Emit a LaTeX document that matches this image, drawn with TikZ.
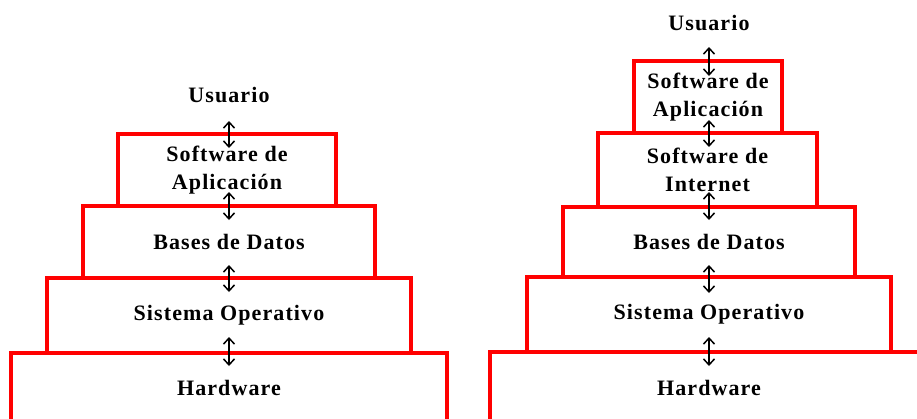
\documentclass[tikz,border=0pt]{standalone}
\usepackage{fontspec}
\setmainfont{Liberation Serif}[LetterSpace=5]
\usetikzlibrary{arrows.meta}

\tikzset{
  capa/.style={draw=red, line width=4pt, outer sep=0pt, inner sep=0pt, align=center,
    font=\bfseries\fontsize{22}{28}\selectfont},
  etiq/.style={inner sep=0pt, font=\bfseries\fontsize{22}{28}\selectfont},
  flecha/.style={black, line width=1.5pt, {Straight Barb[length=6pt,width=11pt]}-{Straight Barb[length=6pt,width=11pt]}}
}

\begin{document}
\begin{tikzpicture}[x=1pt,y=-1pt]
  \useasboundingbox (0,0) rectangle (917,418);
  \clip (0,0) rectangle (917,418);

  % pila de la izquierda
  \node[etiq] (usuI) at (229,95) {Usuario};
  \node[capa, minimum width=218, minimum height=72] (aplI) at (227,170) {Software de\\Aplicación};
  \node[capa, minimum width=292, minimum height=72] (bdI) at (229,242) {Bases de Datos};
  \node[capa, minimum width=364, minimum height=75] (soI) at (229,315.5) {Sistema Operativo};
  \node[capa, minimum width=436, minimum height=70] (hwI) at (229,388) {Hardware};

  \draw[flecha] ([xshift=2pt,yshift=13pt]aplI.north) -- ([xshift=2pt,yshift=-14pt]aplI.north);
  \draw[flecha] ([yshift=14pt]bdI.north) -- ([yshift=-14pt]bdI.north);
  \draw[flecha] ([yshift=13pt]soI.north) -- ([yshift=-14pt]soI.north);
  \draw[flecha] ([yshift=16pt]hwI.north) -- ([yshift=-13pt]hwI.north);

  % pila de la derecha
  \node[etiq] (usuD) at (709,23) {Usuario};
  \node[capa, minimum width=148, minimum height=72] (aplD) at (708,97) {Software de\\Aplicación};
  \node[capa, minimum width=219, minimum height=74] (intD) at (707.5,170) {Software de\\Internet};
  \node[capa, minimum width=292, minimum height=70] (bdD) at (709,242) {Bases de Datos};
  \node[capa, minimum width=364, minimum height=75] (soD) at (709,314.5) {Sistema Operativo};
  \node[capa, minimum width=438, minimum height=71] (hwD) at (709,387.5) {Hardware};

  \draw[flecha] ([xshift=1pt,yshift=14pt]aplD.north) -- ([xshift=1pt,yshift=-15pt]aplD.north);
  \draw[flecha] ([xshift=1.5pt,yshift=13pt]intD.north) -- ([xshift=1.5pt,yshift=-14pt]intD.north);
  \draw[flecha] ([yshift=15pt]bdD.north) -- ([yshift=-13pt]bdD.north);
  \draw[flecha] ([yshift=12pt]soD.north) -- ([yshift=-16pt]soD.north);
  \draw[flecha] ([yshift=15pt]hwD.north) -- ([yshift=-14pt]hwD.north);
\end{tikzpicture}
\end{document}
